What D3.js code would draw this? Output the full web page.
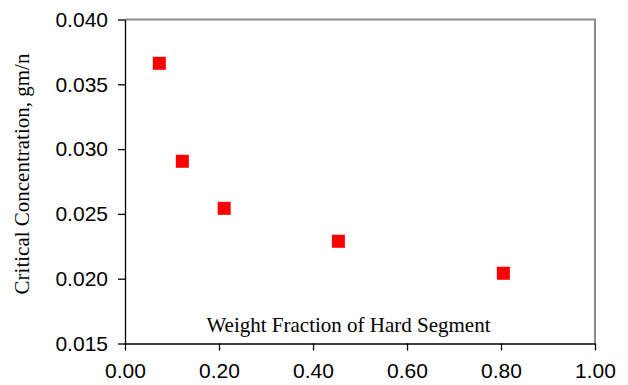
<!DOCTYPE html>
<html>
<head>
<meta charset="utf-8">
<script src="https://cdn.jsdelivr.net/npm/d3@7"></script>
<style>
  body { margin: 0; background: #fff; }
  svg { display: block; }
</style>
</head>
<body>
<script>
// data
const fraction = [0.073, 0.122, 0.211, 0.454, 0.805];
const concentration = [0.03662, 0.02906, 0.02543, 0.02289, 0.02042];
const xTicks = [0, 0.2, 0.4, 0.6, 0.8, 1.0];
const yTicks = [0.015, 0.020, 0.025, 0.030, 0.035, 0.040];

const width = 628, height = 385;
const margin = { top: 19.5, right: 33, bottom: 41.5, left: 125 };

const svg = d3.select("body").append("svg").attr("width", width).attr("height", height);

const x = d3.scaleLinear().domain([0, 1]).range([margin.left, width - margin.right]);
const y = d3.scaleLinear().domain([0.015, 0.040]).range([height - margin.bottom, margin.top]);

// top and right frame (grey)
svg.append("path")
  .attr("d", `M${x(0)},${y(0.040)}H${x(1)}V${y(0.015)}`)
  .attr("fill", "none").attr("stroke", "#8c8c8c").attr("stroke-width", 2);

// axes
const xAxis = d3.axisBottom(x).tickValues(xTicks).tickFormat(d3.format(".2f")).tickSizeOuter(0).tickSizeInner(7).tickPadding(13);
const yAxis = d3.axisLeft(y).tickValues(yTicks).tickFormat(d3.format(".3f")).tickSizeOuter(0).tickSizeInner(7).tickPadding(10);

const gx = svg.append("g").attr("transform", `translate(0,${y(0.015)})`).call(xAxis);
const gy = svg.append("g").attr("transform", `translate(${x(0)},0)`).call(yAxis);

[gx, gy].forEach(g => {
  g.selectAll("path, line").attr("stroke", "#000").attr("stroke-width", 1.3);
  g.selectAll("text").attr("fill", "#000")
    .style("font-family", "'Liberation Sans', Arial, sans-serif").style("font-size", "21px");
});

// points
const s = 13;
svg.selectAll("rect.pt").data(fraction).enter().append("rect")
  .attr("class", "pt")
  .attr("x", (d, i) => x(d) - s / 2)
  .attr("y", (d, i) => y(concentration[i]) - s / 2)
  .attr("width", s).attr("height", s)
  .attr("fill", "#ff0000");

// axis titles
svg.append("text")
  .attr("x", 348.5).attr("y", 332)
  .attr("text-anchor", "middle")
  .style("font-family", "'Liberation Serif', 'Times New Roman', serif").style("font-size", "21px")
  .text("Weight Fraction of Hard Segment");

svg.append("text")
  .attr("transform", "translate(29,174) rotate(-90)")
  .attr("text-anchor", "middle")
  .style("font-family", "'Liberation Serif', 'Times New Roman', serif").style("font-size", "21px")
  .text("Critical Concentration, gm/n");
</script>
</body>
</html>
